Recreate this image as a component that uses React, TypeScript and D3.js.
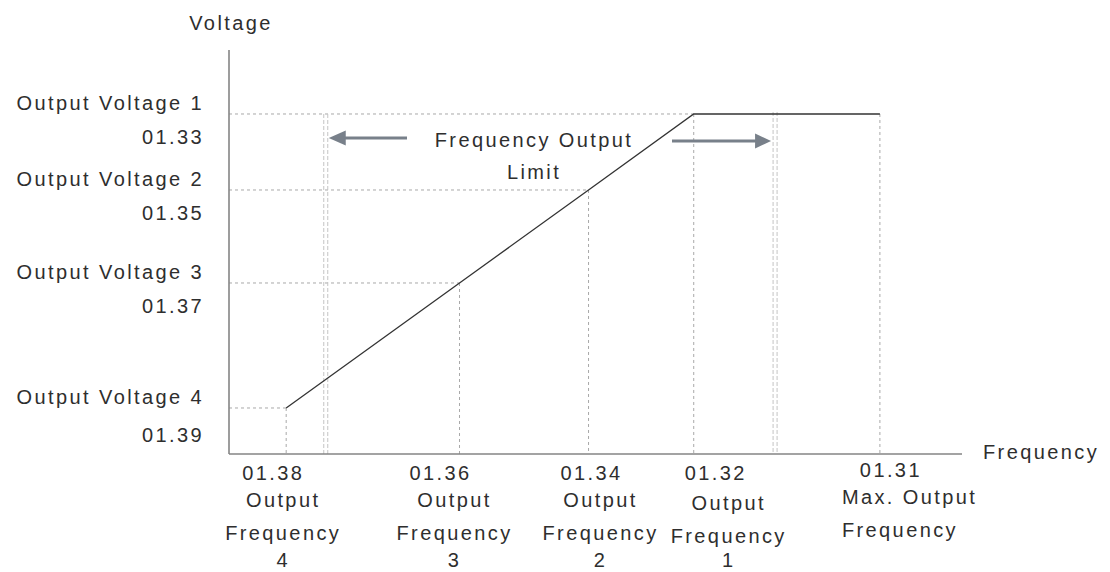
import React from "react";
import * as d3 from "d3";

// ---- data (chart units: both axes 0..100) ----
const freqCodes = ["01.38", "01.36", "01.34", "01.32", "01.31"];
const freqNames = [
  ["Output", "Frequency", "4"],
  ["Output", "Frequency", "3"],
  ["Output", "Frequency", "2"],
  ["Output", "Frequency", "1"],
  ["Max. Output", "Frequency"],
];
const freqValues = [7.8, 31.45, 49.05, 63.4, 88.8];

const voltNames = ["Output Voltage 1", "Output Voltage 2", "Output Voltage 3", "Output Voltage 4"];
const voltCodes = ["01.33", "01.35", "01.37", "01.39"];
const voltValues = [84.16, 65.35, 42.33, 11.39];

const limitValues = [13.2, 74.5];

// V/F curve points
const curvePoints: [number, number][] = [
  [freqValues[0], voltValues[3]],
  [freqValues[1], voltValues[2]],
  [freqValues[2], voltValues[1]],
  [freqValues[3], voltValues[0]],
  [freqValues[4], voltValues[0]],
];
// vertical guide top (volt value) per frequency
const freqGuideTop = [voltValues[3], voltValues[2], voltValues[1], voltValues[0], voltValues[0]];

// ---- layout ----
const W = 1110;
const H = 572;
const X0 = 229, X1 = 962, Y0 = 454, Y1 = 50;
const codeDx = [-13, -19, 3, 22, 11];
const textDx = [-3, -5, 12, 35, -38];
const colDy = [0, 0, 0, 3, -3];
const FONT = "'Liberation Sans', Arial, Helvetica, sans-serif";
const TXT = "#2e2e2e";
const GUIDE = "#a8a8a8";
const ARROW = "#78808a";

export default function App() {
  const x = d3.scaleLinear().domain([0, 100]).range([X0, X1]);
  const y = d3.scaleLinear().domain([0, 100]).range([Y0, Y1]);
  const line = d3.line<[number, number]>().x((d) => x(d[0])).y((d) => y(d[1]));

  const textStyle: React.CSSProperties = {
    fontFamily: FONT,
    fontSize: 20,
    letterSpacing: 2.4,
    fill: TXT,
  };

  const lx = x(limitValues[0]);
  const rx = x(limitValues[1]);
  const ly = 138;
  const ry = 141;

  return (
    <svg
      width={W}
      height={H}
      style={{ position: "absolute", left: 0, top: 0, background: "#fff" }}
    >
      {/* horizontal guides */}
      {voltValues.map((v, i) => {
        const fIdx = [3, 2, 1, 0][i];
        return (
          <line
            key={"hv" + i}
            x1={x(0)}
            x2={x(freqValues[fIdx])}
            y1={y(v)}
            y2={y(v)}
            stroke={GUIDE}
            strokeWidth={1}
            strokeDasharray="3,3"
          />
        );
      })}
      {/* vertical guides */}
      {freqValues.map((f, i) => (
        <line
          key={"vf" + i}
          x1={x(f)}
          x2={x(f)}
          y1={y(freqGuideTop[i])}
          y2={y(0)}
          stroke={GUIDE}
          strokeWidth={1}
          strokeDasharray="3,3"
        />
      ))}
      {/* limit double lines */}
      {limitValues.map((l, i) =>
        [-2, 2].map((o) => (
          <line
            key={"lim" + i + o}
            x1={x(l) + o}
            x2={x(l) + o}
            y1={y(voltValues[0]) - (i === 1 ? 2 : 0)}
            y2={y(0)}
            stroke="#c4c4c4"
            strokeWidth={1}
            strokeDasharray="4,2"
          />
        ))
      )}

      {/* axes */}
      <line x1={x(0)} x2={x(0)} y1={y(0)} y2={y(100)} stroke="#858585" strokeWidth={1.6} />
      <line x1={x(0)} x2={x(100)} y1={y(0)} y2={y(0)} stroke="#858585" strokeWidth={1.6} />

      {/* curve */}
      <path d={line(curvePoints) || ""} fill="none" stroke="#333" strokeWidth={1.3} />

      {/* arrows */}
      <line x1={407} x2={lx + 18} y1={ly} y2={ly} stroke={ARROW} strokeWidth={3} />
      <path d={`M${lx + 3},${ly} L${lx + 20},${ly - 7.5} L${lx + 20},${ly + 7.5} Z`} fill={ARROW} />
      <line x1={672} x2={rx - 18} y1={ry} y2={ry} stroke={ARROW} strokeWidth={3} />
      <path d={`M${rx - 4},${ry} L${rx - 20},${ry - 7.5} L${rx - 20},${ry + 7.5} Z`} fill={ARROW} />

      {/* Frequency Output Limit */}
      <text x={534} y={147} textAnchor="middle" style={textStyle}>Frequency Output</text>
      <text x={534} y={179} textAnchor="middle" style={textStyle}>Limit</text>

      {/* axis titles */}
      <text x={231} y={30} textAnchor="middle" style={textStyle}>Voltage</text>
      <text x={983} y={459} textAnchor="start" style={textStyle}>Frequency</text>

      {/* voltage labels */}
      {voltValues.map((v, i) => (
        <g key={"vl" + i}>
          <text x={204} y={y(v) - 4} textAnchor="end" style={textStyle}>{voltNames[i]}</text>
          <text x={204} y={y(v) + (i === 3 ? 34 : 30)} textAnchor="end" style={textStyle}>{voltCodes[i]}</text>
        </g>
      ))}

      {/* frequency labels */}
      {freqValues.map((f, i) => {
        const isMax = i === freqValues.length - 1;
        return (
          <g key={"fl" + i}>
            <text x={x(f) + codeDx[i]} y={480 + (isMax ? -3 : 0)} textAnchor="middle" style={textStyle}>
              {freqCodes[i]}
            </text>
            {freqNames[i].map((s, j) => (
              <text
                key={j}
                x={x(f) + textDx[i]}
                y={j === 2 ? 567 : [507, 540][j] + colDy[i]}
                textAnchor={isMax ? "start" : "middle"}
                style={textStyle}
              >
                {s}
              </text>
            ))}
          </g>
        );
      })}
    </svg>
  );
}
